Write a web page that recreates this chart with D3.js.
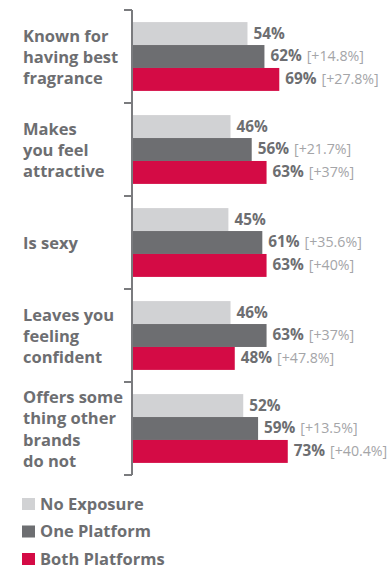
<!DOCTYPE html>
<html>
<head>
<meta charset="utf-8">
<script src="https://cdn.jsdelivr.net/npm/d3@7"></script>
<style>
  html, body { margin: 0; padding: 0; background: #fff; }
  svg { display: block; }
</style>
</head>
<body>
<svg id="chart" width="390" height="568"></svg>
<script>
// Statements (line breaks marked with "|")
const categories = [
  "Known for|having best|fragrance",
  "Makes|you feel|attractive",
  "Is sexy",
  "Leaves you|feeling|confident",
  "Offers some|thing other|brands|do not"
];
const seriesNames = ["No Exposure", "One Platform", "Both Platforms"];
const noExposure    = [54, 46, 45, 46, 52];
const onePlatform   = [62, 56, 61, 63, 59];
const bothPlatforms = [69, 63, 63, 48, 73];
// Lift over "No Exposure", shown in brackets
const onePlatformLift   = ["+14.8%", "+21.7%", "+35.6%", "+37%", "+13.5%"];
const bothPlatformsLift = ["+27.8%", "+37%", "+40%", "+47.8%", "+40.4%"];

const colors = ["#d1d2d4", "#6d6e71", "#d40b45"];
const textGray = "#6d6e71";
const liftGray = "#a4a5a8";
const font = "'Open Sans', 'Noto Sans', sans-serif";

const svg = d3.select("#chart");

const axisX = 132;
const y0 = d3.scaleBand()
  .domain(d3.range(categories.length))
  .range([10, 475])
  .paddingInner(0.26)
  .paddingOuter(0.13);
const y1 = d3.scaleBand()
  .domain(d3.range(seriesNames.length))
  .range([0, y0.bandwidth()]);
const x = d3.scaleLinear().domain([0, 100]).range([axisX + 1, axisX + 1 + 212]);

const rows = categories.map((c, i) => ({
  label: c,
  vals: [noExposure[i], onePlatform[i], bothPlatforms[i]],
  lifts: [null, onePlatformLift[i], bothPlatformsLift[i]]
}));

const step = y0.step();

// Category groups
const g = svg.selectAll("g.cat").data(rows).join("g")
  .attr("class", "cat")
  .attr("transform", (d, i) => `translate(0,${y0(i)})`);

g.selectAll("rect").data(d => d.vals).join("rect")
  .attr("x", x(0))
  .attr("y", (v, j) => y1(j))
  .attr("width", v => x(v) - x(0))
  .attr("height", y1.bandwidth())
  .attr("fill", (v, j) => colors[j]);

// Value + lift labels
g.each(function (d) {
  const grp = d3.select(this);
  d.vals.forEach((v, j) => {
    const cy = y1(j) + y1.bandwidth() / 2 - 1;
    const t = grp.append("text")
      .attr("x", x(v) + 6)
      .attr("y", cy)
      .attr("dominant-baseline", "central")
      .attr("font-family", font)
      .attr("font-weight", 700)
      .attr("font-size", 15.3)
      .attr("fill", textGray)
      .text(v + "%");
    if (d.lifts[j]) {
      const w = t.node().getComputedTextLength();
      grp.append("text")
        .attr("x", x(v) + 6 + w + 5)
        .attr("y", cy)
        .attr("dominant-baseline", "central")
        .attr("font-family", font)
        .attr("font-weight", 400)
        .attr("font-size", 14.2)
        .attr("fill", liftGray)
        .text("[" + d.lifts[j] + "]");
    }
  });
});

// Category labels
rows.forEach((d, i) => {
  const lines = d.label.split("|");
  const lh = 21.3;
  const center = y0(i) + y0.bandwidth() / 2 + 6.5;
  const first = center - (lines.length - 1) * lh / 2;
  const t = svg.append("text")
    .attr("font-family", font)
    .attr("font-weight", 700)
    .attr("font-size", 16.5)
    .attr("fill", textGray);
  lines.forEach((ln, k) => {
    t.append("tspan").attr("x", 23).attr("y", first + k * lh).text(ln);
  });
});

// Axis line with ticks between categories
svg.append("line")
  .attr("x1", axisX).attr("x2", axisX)
  .attr("y1", 10).attr("y2", 475)
  .attr("stroke", "#7a7b7e").attr("stroke-width", 2);
const tickYs = d3.range(categories.length + 1).map(i => 10 + i * step);
svg.selectAll("line.tick").data(tickYs).join("line")
  .attr("class", "tick")
  .attr("x1", axisX - 8).attr("x2", axisX)
  .attr("y1", d => d).attr("y2", d => d)
  .attr("stroke", "#7a7b7e").attr("stroke-width", 2);

// Legend
const leg = svg.selectAll("g.leg").data(seriesNames).join("g")
  .attr("class", "leg")
  .attr("transform", (d, i) => `translate(22,${498 + i * 27.5})`);
leg.append("rect").attr("width", 13).attr("height", 12)
  .attr("fill", (d, i) => colors[i]);
leg.append("text")
  .attr("x", 18).attr("y", 11.5)
  .attr("font-family", font)
  .attr("font-weight", 700)
  .attr("font-size", 16.5)
  .attr("fill", textGray)
  .text(d => d);
</script>
</body>
</html>
